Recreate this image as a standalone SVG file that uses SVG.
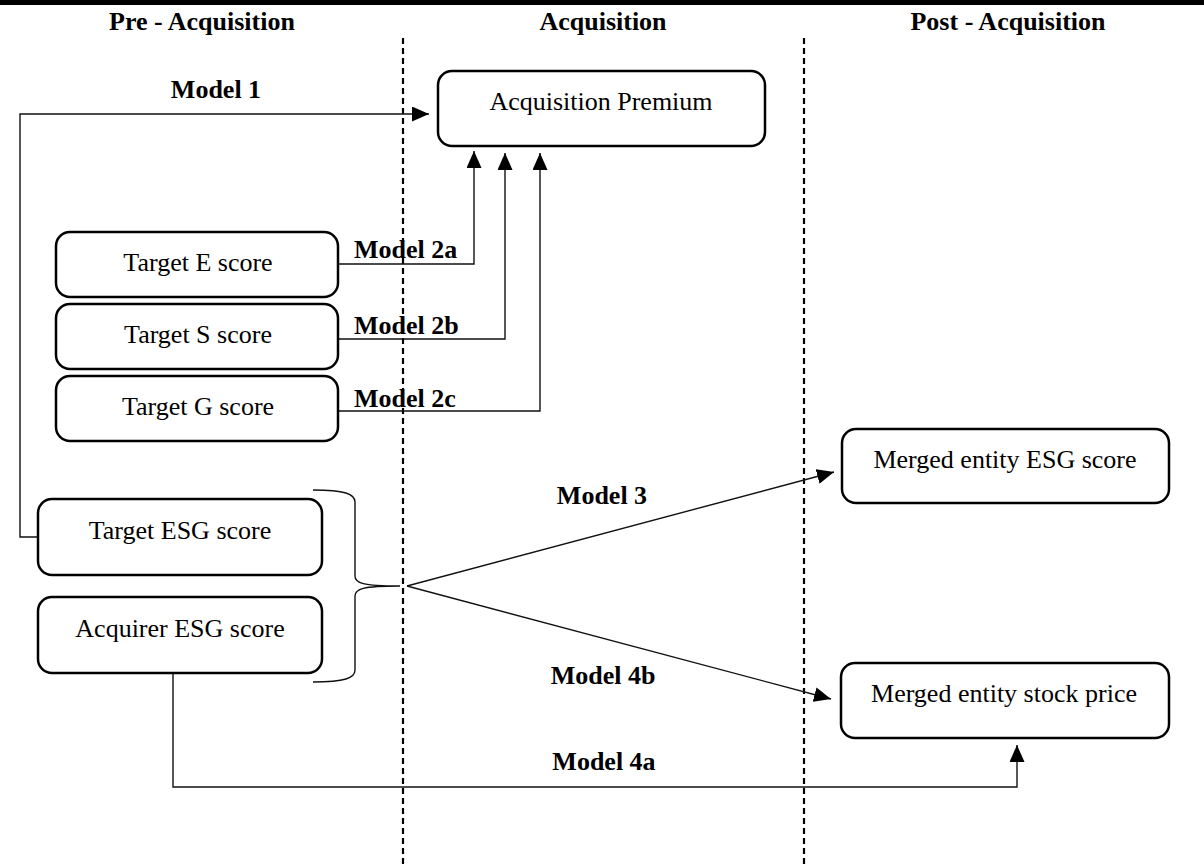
<svg xmlns="http://www.w3.org/2000/svg" width="1204" height="865" viewBox="0 0 1204 865">
<style>
.box{fill:#fff;stroke:#000;stroke-width:2.5}
.t{font-family:"Liberation Serif","Times New Roman",serif;font-size:26px;fill:#000;text-anchor:middle}
.b{font-family:"Liberation Serif","Times New Roman",serif;font-size:26px;font-weight:bold;fill:#000}
.c{font-family:"Liberation Serif","Times New Roman",serif;font-size:26px;font-weight:bold;fill:#000;text-anchor:middle}
.ln{fill:none;stroke:#111;stroke-width:1.4}
.dash{stroke:#000;stroke-width:2.2;stroke-dasharray:6 4;fill:none}
</style>
<defs>
<marker id="ah" viewBox="0 0 17 15" refX="17" refY="7.5" markerWidth="17" markerHeight="15" markerUnits="userSpaceOnUse" orient="auto">
<path d="M0,0 L17,7.5 L0,15 Z" fill="#000"/>
</marker>
</defs>
<rect x="0" y="0" width="1204" height="5" fill="#000"/>
<g id="headers">
<text class="c" x="202" y="30">Pre - Acquisition</text>
<text class="c" x="603" y="30">Acquisition</text>
<text class="c" x="1008" y="30">Post - Acquisition</text>
</g>
<g id="dividers">
<line class="dash" x1="403" y1="38" x2="403" y2="865"/>
<line class="dash" x1="804" y1="38" x2="804" y2="865"/>
</g>
<g id="connectors">
<polyline class="ln" points="38,537 20,537 20,114 429,114" marker-end="url(#ah)"/>
<polyline class="ln" points="338,264 474,264 474,151" marker-end="url(#ah)"/>
<polyline class="ln" points="338,339 505,339 505,153" marker-end="url(#ah)"/>
<polyline class="ln" points="338,411 540,411 540,153" marker-end="url(#ah)"/>
<path class="ln" d="M313,490 C345,490 355,494 355,502 L355,576 C355,583 362,586 400,586 M400,586 C362,586 355,589 355,596 L355,670 C355,678 345,682 313,682"/>
<line class="ln" x1="407" y1="586" x2="834" y2="472" marker-end="url(#ah)"/>
<line class="ln" x1="407" y1="586" x2="831" y2="699" marker-end="url(#ah)"/>
<polyline class="ln" points="173,673 173,787 1017,787 1017,745" marker-end="url(#ah)"/>
<text class="c" x="216" y="98">Model 1</text>
<text class="b" x="354" y="258">Model 2a</text>
<text class="b" x="354" y="334">Model 2b</text>
<text class="b" x="354" y="407">Model 2c</text>
<text class="c" x="602" y="504">Model 3</text>
<text class="c" x="603" y="684">Model 4b</text>
<text class="c" x="604" y="770">Model 4a</text>
</g>
<g id="acq-premium">
<rect class="box" x="438" y="71" width="327" height="75" rx="14"/>
<text class="t" x="601" y="110">Acquisition Premium</text>
</g>
<g id="target-e">
<rect class="box" x="56" y="232" width="282" height="65" rx="14"/>
<text class="t" x="198" y="271">Target E score</text>
</g>
<g id="target-s">
<rect class="box" x="56" y="304" width="282" height="65" rx="14"/>
<text class="t" x="198" y="343">Target S score</text>
</g>
<g id="target-g">
<rect class="box" x="56" y="376" width="282" height="65" rx="14"/>
<text class="t" x="198" y="415">Target G score</text>
</g>
<g id="target-esg">
<rect class="box" x="38" y="499" width="284" height="76" rx="14"/>
<text class="t" x="180" y="539">Target ESG score</text>
</g>
<g id="acquirer-esg">
<rect class="box" x="38" y="597" width="284" height="76" rx="14"/>
<text class="t" x="180" y="637">Acquirer ESG score</text>
</g>
<g id="merged-esg">
<rect class="box" x="842" y="429" width="327" height="74" rx="14"/>
<text class="t" x="1005" y="468">Merged entity ESG score</text>
</g>
<g id="merged-price">
<rect class="box" x="841" y="663" width="328" height="75" rx="14"/>
<text class="t" x="1004" y="702">Merged entity stock price</text>
</g>
</svg>
